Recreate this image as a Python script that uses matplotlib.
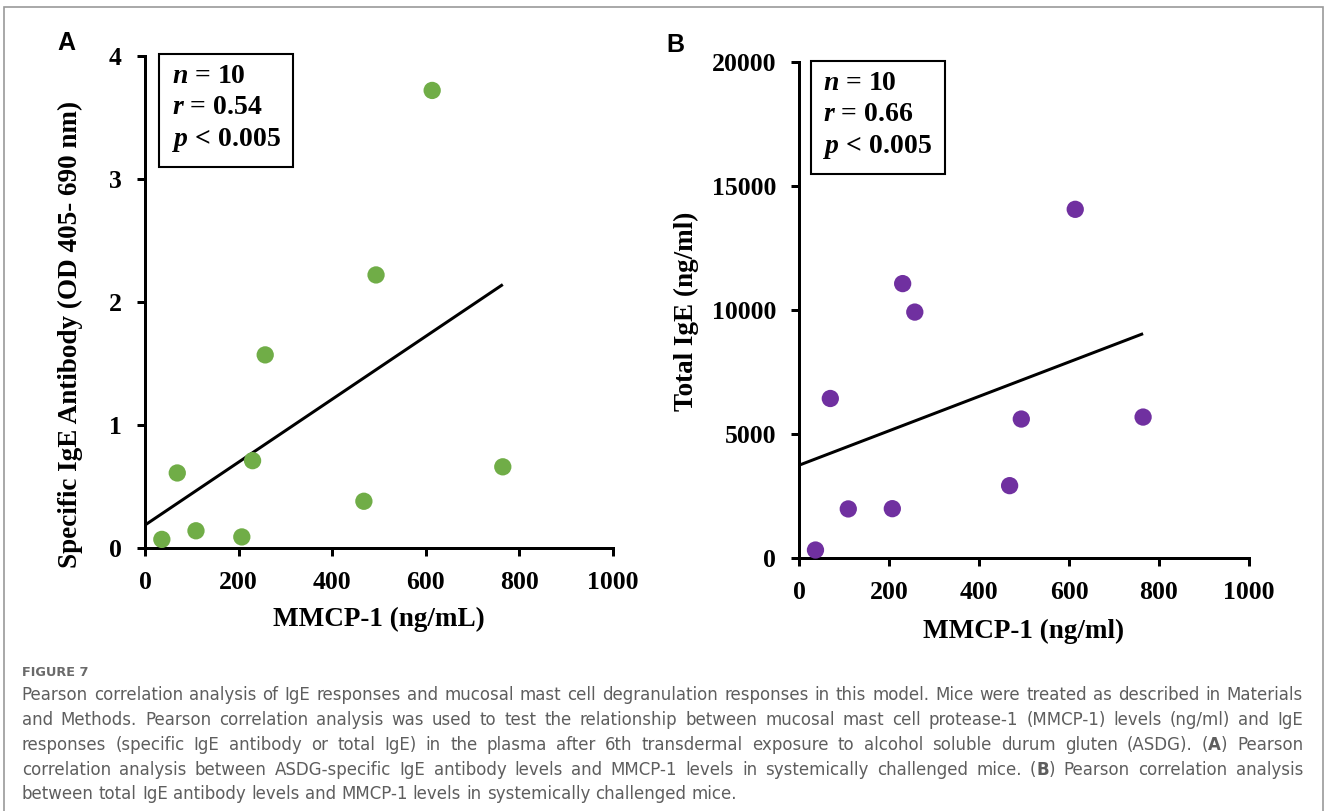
import numpy as np
import matplotlib.pyplot as plt
from matplotlib.patches import Rectangle

# MMCP-1 plasma levels (ng/ml), one value per mouse
mmcp1 = [36, 69, 109, 207, 230, 257, 468, 494, 614, 765]
# ASDG-specific IgE (OD 405-690 nm)
specific_ige = [0.07, 0.61, 0.14, 0.09, 0.71, 1.57, 0.38, 2.22, 3.72, 0.66]
# total IgE (ng/ml)
total_ige = [310, 6430, 1970, 1980, 11070, 9920, 2910, 5600, 14070, 5680]

stats_a = ["10", "0.54", "0.005"]
stats_b = ["10", "0.66", "0.005"]

caption_lines = [
    "Pearson correlation analysis of IgE responses and mucosal mast cell degranulation responses in this model. Mice were treated as described in Materials",
    "and Methods. Pearson correlation analysis was used to test the relationship between mucosal mast cell protease-1 (MMCP-1) levels (ng/ml) and IgE",
    "responses (specific IgE antibody or total IgE) in the plasma after 6th transdermal exposure to alcohol soluble durum gluten (ASDG). (A) Pearson",
    "correlation analysis between ASDG-specific IgE antibody levels and MMCP-1 levels in systemically challenged mice. (B) Pearson correlation analysis",
    "between total IgE antibody levels and MMCP-1 levels in systemically challenged mice.",
]

plt.rcParams['font.family'] = 'Liberation Serif'
plt.rcParams['font.weight'] = 'bold'
plt.rcParams['mathtext.fontset'] = 'custom'
plt.rcParams['mathtext.bfit'] = 'Liberation Serif:italic:bold'
plt.rcParams['mathtext.rm'] = 'Liberation Serif:bold'

W, H = 1328, 811
fig = plt.figure(figsize=(W / 100, H / 100), dpi=100)

# thin grey frame around the figure
fig.patches.append(Rectangle((4 / W, -0.02), 1319 / W, 1.02 - 7 / H,
                             transform=fig.transFigure, fill=False,
                             ec='#9a9a9a', lw=1.2))

LW = 2.16


def panel(rect, y, color, ylim, yticks, ylabel, xlabel, stats, ylab_xy, xlab_y, box_xy):
    ax = fig.add_axes(rect)
    x = np.array(mmcp1, dtype=float)
    y = np.array(y, dtype=float)
    k, b = np.polyfit(x, y, 1)
    xs = np.array([0, x.max()])
    ax.plot(xs, k * xs + b, color='black', lw=LW, zorder=2, solid_capstyle='butt')
    ax.scatter(x, y, s=155, color=color, edgecolors='none', zorder=3, clip_on=False)
    ax.set_xlim(0, 1000)
    ax.set_ylim(*ylim)
    ax.set_xticks(np.arange(0, 1001, 200))
    ax.set_yticks(yticks)
    for s in ['top', 'right']:
        ax.spines[s].set_visible(False)
    for s in ['left', 'bottom']:
        ax.spines[s].set_linewidth(LW)
    ax.tick_params(direction='out', length=5.8, width=LW, labelsize=18.5, pad=11)
    ax.set_xlabel(xlabel, fontsize=19.5, fontweight='bold')
    ax.xaxis.label.set_verticalalignment('center')
    ax.xaxis.set_label_coords(0.5, xlab_y)
    ax.set_ylabel(ylabel, fontsize=19.5, fontweight='bold')
    ax.yaxis.label.set_verticalalignment('center')
    ax.yaxis.set_label_coords(*ylab_xy)
    txt = (r"$\mathbfit{n}$ = " + stats[0] + "\n"
           + r"$\mathbfit{r}$ = " + stats[1] + "\n"
           + r"$\mathbfit{p}$ < " + stats[2])
    ax.text(box_xy[0], box_xy[1], txt, transform=ax.transAxes, fontsize=20,
            fontweight='bold', ha='left', va='top', linespacing=1.3,
            bbox=dict(boxstyle='square,pad=0.45', fc='white', ec='black', lw=1.5))
    return ax


ax_a = panel([145 / W, 1 - 548 / H, 467.7 / W, 492 / H], specific_ige, '#70AD47',
             (0, 4), [0, 1, 2, 3, 4], 'Specific IgE Antibody (OD 405- 690 nm)',
             'MMCP-1 (ng/mL)', stats_a, (-0.159, 0.435), -0.145, (0.057, 0.983))
ax_b = panel([799.3 / W, 1 - 557.7 / H, 449.4 / W, 495.2 / H], total_ige, '#7030A0',
             (0, 20000), [0, 5000, 10000, 15000, 20000], 'Total IgE (ng/ml)',
             'MMCP-1 (ng/ml)', stats_b, (-0.251, 0.498), -0.148, (0.053, 0.982))

fig.text(66 / W, 1 - 43 / H, 'A', family='Liberation Sans', fontweight='bold',
         fontsize=18, ha='center', va='center')
fig.text(675 / W, 1 - 44.5 / H, 'B', family='Liberation Sans', fontweight='bold',
         fontsize=18, ha='center', va='center')

# caption, justified between the left and right margins
cap_font = 'DejaVu Sans'
cap_color = '#5e5e5e'
cap_size = 12.0
left, right = 21.7, 1303.0
fig.text(left / W, 1 - 673 / H, 'FIGURE 7', family=cap_font, fontweight='bold',
         fontsize=9.3, color='#6a6a6a', ha='left', va='center')

renderer = fig.canvas.get_renderer()


def word_parts(word):
    if word in ('(A)', '(B)'):
        return [('(', 'normal'), (word[1], 'bold'), (')', 'normal')]
    return [(word, 'normal')]


def measure(parts):
    total = 0
    for s, wgt in parts:
        t = fig.text(0, 0, s, family=cap_font, fontweight=wgt, fontsize=cap_size)
        total += t.get_window_extent(renderer).width
        t.remove()
    return total


for i, line in enumerate(caption_lines):
    base = 1 - (700.5 + 24.7 * i) / H
    words = [word_parts(w) for w in line.split(' ')]
    widths = [measure(p) for p in words]
    if i == len(caption_lines) - 1:
        space = measure([('a b', 'normal')]) - measure([('ab', 'normal')])
    else:
        space = (right - left - sum(widths)) / (len(words) - 1)
    xpos = left
    for parts, wd in zip(words, widths):
        xx = xpos
        for s, wgt in parts:
            t = fig.text(xx / W, base, s, family=cap_font, fontweight=wgt,
                         fontsize=cap_size, color=cap_color, ha='left', va='baseline')
            xx += t.get_window_extent(renderer).width
        xpos += wd + space

fig.savefig('out.png', dpi=100)
